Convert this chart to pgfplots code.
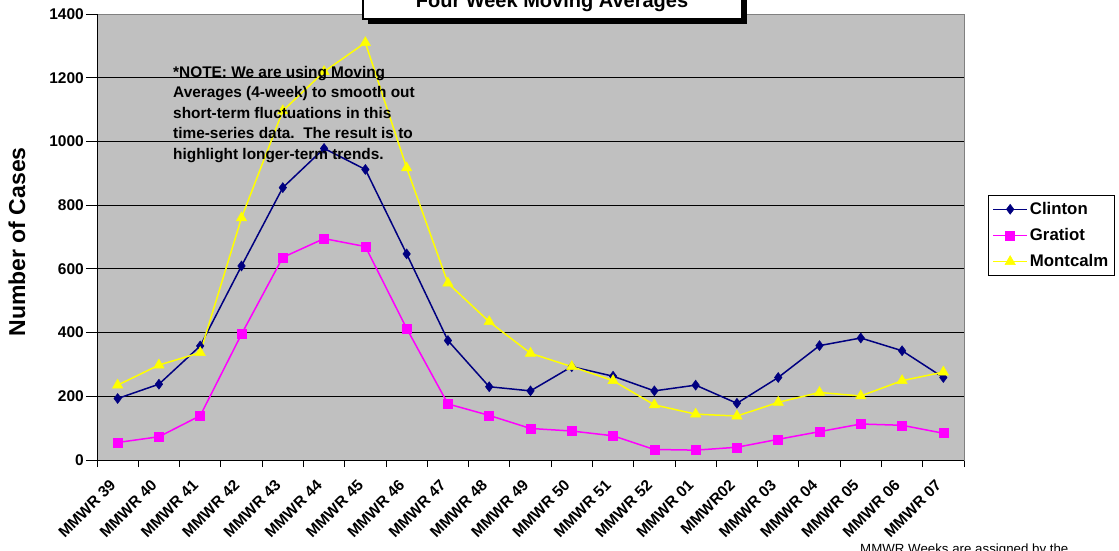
\documentclass[border=0pt]{standalone}
\usepackage{pgfplots}
\pgfplotsset{compat=1.18}
\usepackage{fontspec}
\setmainfont{Liberation Sans}
\definecolor{plotgray}{HTML}{C0C0C0}
\definecolor{clinton}{HTML}{000080}
\definecolor{gratiot}{HTML}{FF00FF}
\definecolor{montcalm}{HTML}{FFFF00}
\definecolor{bordergray}{HTML}{808080}
\begin{document}
\begin{tikzpicture}
\useasboundingbox (0,0) rectangle (1119bp,-551bp);
\begin{axis}[
  at={(97bp,-460bp)}, anchor=south west,
  scale only axis, width=867bp, height=446bp,
  xmin=-0.5, xmax=20.5, ymin=0, ymax=1400,
  axis background/.style={fill=plotgray},
  axis line style={draw=bordergray, line width=1bp},
  ytick={0,200,...,1400},
  ymajorgrids, major grid style={black, line width=1bp},
  tick align=outside,
  xtick pos=bottom, ytick pos=left,
  major tick length=11bp,
  minor tick length=7bp,
  tick style={black, line width=1bp},
  xtick={0,...,20},
  major x tick style={draw=none},
  minor xtick={-0.5,0.5,...,20.5},
  xticklabels={MMWR 39,MMWR 40,MMWR 41,MMWR 42,MMWR 43,MMWR 44,MMWR 45,MMWR 46,MMWR 47,MMWR 48,MMWR 49,MMWR 50,MMWR 51,MMWR 52,MMWR 01,MMWR02,MMWR 03,MMWR 04,MMWR 05,MMWR 06,MMWR 07},
  xticklabel style={xshift=-4bp, yshift=-11bp, rotate=45, anchor=east, font=\fontsize{15.5bp}{18bp}\selectfont\bfseries, inner sep=1bp},
  yticklabel style={font=\fontsize{15.5bp}{18bp}\selectfont\bfseries, /pgf/number format/assume math mode=true, inner sep=2bp},
  /pgf/number format/1000 sep={},
  ylabel={Number of Cases},
  ylabel style={at={(axis description cs:-0.0923,0.489)}, anchor=center, font=\fontsize{23bp}{26bp}\selectfont\bfseries},
  legend style={at={(rel axis cs:1.0277,0.594)}, anchor=north west, draw=black, line width=0.8bp, fill=white,
    font=\fontsize{16.8bp}{19bp}\selectfont\bfseries, row sep=8.5bp, inner xsep=4bp, inner ysep=5bp,
    legend image code/.code={\draw[mark repeat=2,mark phase=2,#1] plot coordinates {(0bp,0bp) (17bp,0bp) (34bp,0bp)};}},
  legend cell align=left,
  clip=false,
]
\addplot[color=clinton, line width=1.5bp, mark=diamond*, mark size=5bp, mark options={fill=clinton, draw=clinton, line width=0.5bp}] coordinates {
(0,193) (1,238) (2,358) (3,609) (4,855) (5,978) (6,912) (7,647) (8,375) (9,230) (10,217) (11,293) (12,263) (13,217) (14,235) (15,178) (16,259) (17,359) (18,383) (19,343) (20,259)};
\addlegendentry{Clinton}
\addplot[color=gratiot, line width=1.5bp, mark=square*, mark size=4.5bp, mark options={fill=gratiot, draw=gratiot, line width=0.5bp}] coordinates {
(0,55) (1,73) (2,139) (3,395) (4,636) (5,695) (6,670) (7,413) (8,176) (9,140) (10,99) (11,91) (12,76) (13,33) (14,31) (15,40) (16,65) (17,89) (18,113) (19,109) (20,84)};
\addlegendentry{Gratiot}
\addplot[color=montcalm, line width=1.5bp, mark=triangle*, mark size=6bp, mark options={fill=montcalm, draw=montcalm, line width=0.5bp}] coordinates {
(0,235) (1,298) (2,337) (3,760) (4,1096) (5,1219) (6,1310) (7,917) (8,555) (9,434) (10,335) (11,293) (12,249) (13,173) (14,144) (15,138) (16,181) (17,212) (18,201) (19,249) (20,276)};
\addlegendentry{Montcalm}
\draw[black, line width=1bp] (rel axis cs:0,1) -- (rel axis cs:0,0) -- (rel axis cs:1,0);
\end{axis}
% title box (partly above the page)
\fill[black] (368bp,-24bp) rectangle (747bp,20bp);
\draw[black, line width=1.2bp, fill=white] (363bp,-19bp) rectangle (742bp,20bp);
\node[anchor=base, font=\fontsize{20bp}{24bp}\selectfont\bfseries, inner sep=0pt] at (552bp,-7bp) {Four Week Moving Averages};
\node[anchor=north west, align=left, inner sep=0pt, font=\fontsize{15.4bp}{20.5bp}\selectfont\bfseries] at (173bp,-66bp) {*NOTE: We are using Moving\\Averages (4-week) to smooth out\\short-term fluctuations in this\\time-series data.\ \ The result is to\\highlight longer-term trends.};
\node[anchor=base west, inner sep=0pt, font=\fontsize{13.3bp}{16bp}\selectfont] at (860bp,-553bp) {MMWR Weeks are assigned by the};
\end{tikzpicture}
\end{document}
